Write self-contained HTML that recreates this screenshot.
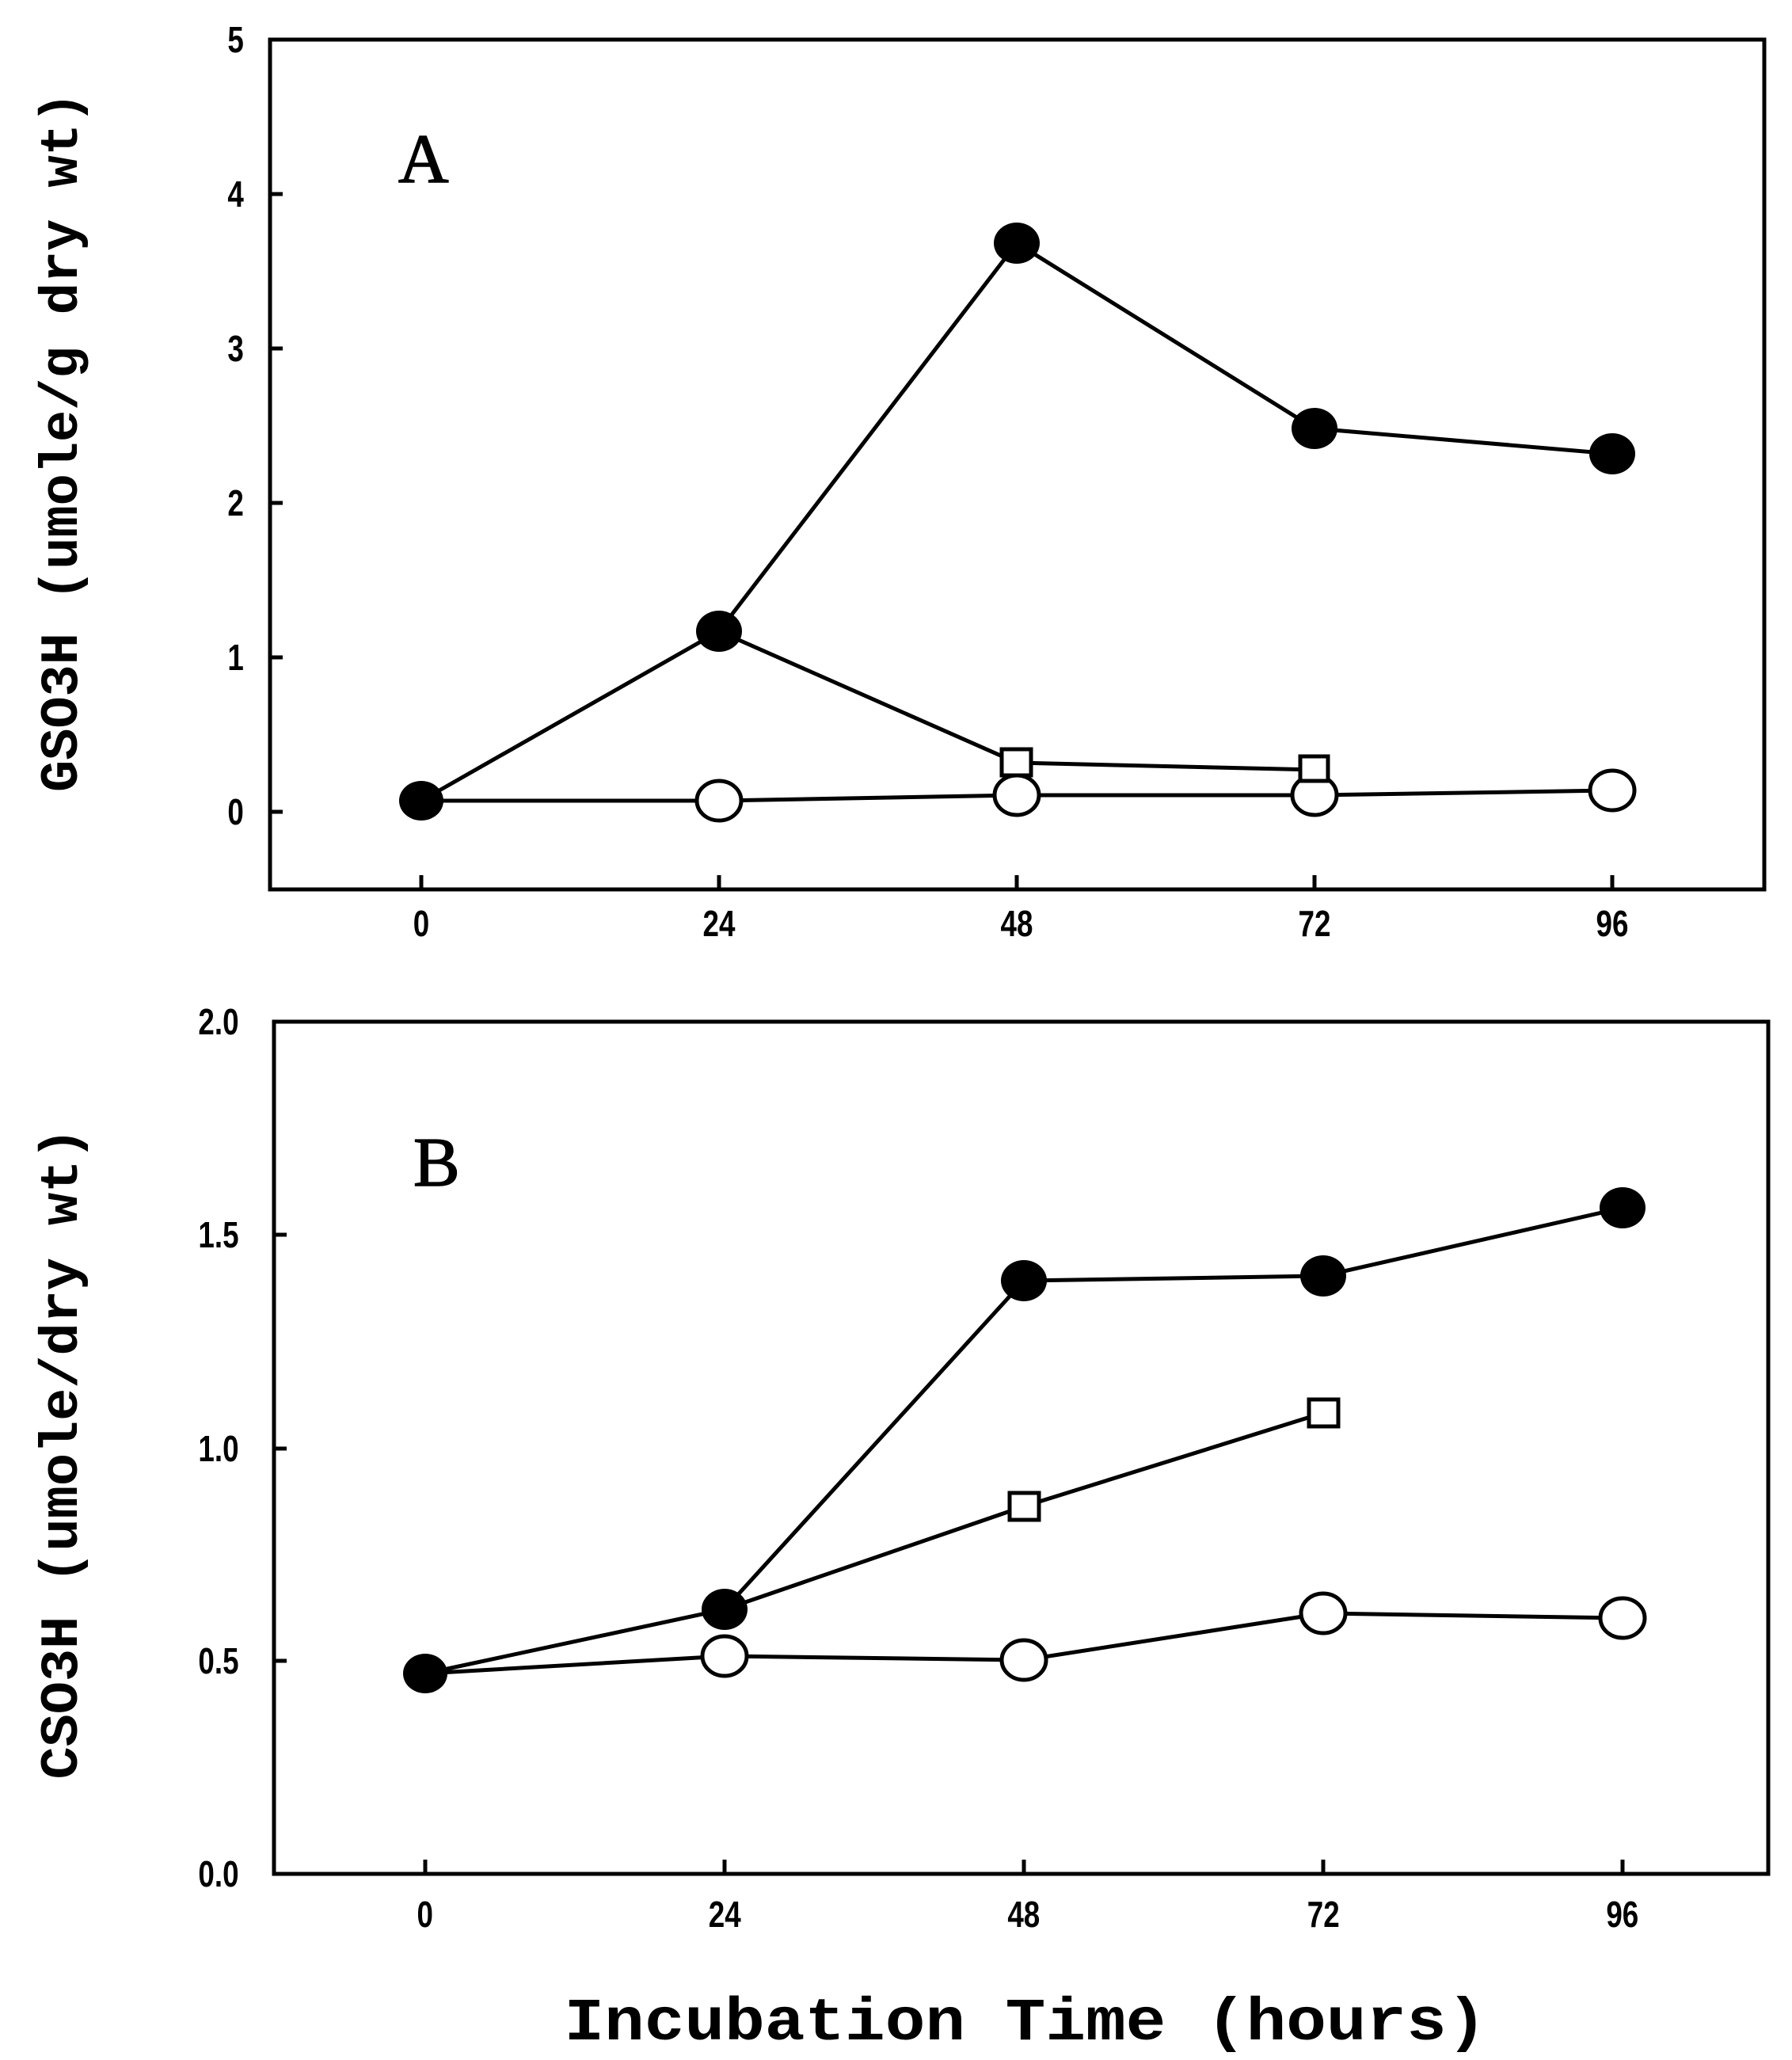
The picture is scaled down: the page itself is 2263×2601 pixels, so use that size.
<!DOCTYPE html>
<html><head><meta charset="utf-8"><style>html,body{margin:0;padding:0;background:#fff}svg{display:block}</style></head><body>
<svg width="2263" height="2601" viewBox="0 0 2263 2601" xmlns="http://www.w3.org/2000/svg">
<g fill="none" stroke="#000" stroke-width="5">
<rect x="341" y="50" width="1887" height="1073"/>
<rect x="346" y="1290" width="1887" height="1076"/>
<path d="M341 50h16M341 245h16M341 440h16M341 635h16M341 830h16M341 1025h16"/>
<path d="M532 1123v-18M908 1123v-18M1284 1123v-18M1660 1123v-18M2036 1123v-18"/>
<path d="M346 1290h16M346 1559h16M346 1829h16M346 2097h16M346 2366h16"/>
<path d="M537 2366v-18M915 2366v-18M1293 2366v-18M1671 2366v-18M2049 2366v-18"/>
<polyline points="532,1011 908,797 1284,307 1660,541 2036,573"/>
<polyline points="908,797 1284,963 1660,972"/>
<polyline points="532,1011 908,1011 1284,1004 1660,1004 2036,998"/>
<polyline points="537,2113 915,2032 1293,1617 1671,1611 2049,1525"/>
<polyline points="915,2032 1293,1902 1671,1784"/>
<polyline points="537,2113 915,2091 1293,2096 1671,2037 2049,2043"/>
</g>
<g fill="#fff" stroke="#000" stroke-width="5">
<ellipse cx="908" cy="1011" rx="28" ry="25"/><ellipse cx="1284" cy="1004" rx="28" ry="25"/><ellipse cx="1660" cy="1004" rx="28" ry="25"/><ellipse cx="2036" cy="998" rx="28" ry="25"/>
<rect x="1265" y="946" width="37" height="33"/><rect x="1642" y="955" width="35" height="31"/>
<ellipse cx="915" cy="2091" rx="28" ry="25"/><ellipse cx="1293" cy="2096" rx="28" ry="25"/><ellipse cx="1671" cy="2037" rx="28" ry="25"/><ellipse cx="2049" cy="2043" rx="28" ry="25"/>
<rect x="1275" y="1885" width="37" height="34"/><rect x="1653" y="1767" width="37" height="34"/>
</g>
<g fill="#000">
<ellipse cx="532" cy="1011" rx="28" ry="25"/><ellipse cx="908" cy="797" rx="29" ry="26"/><ellipse cx="1284" cy="307" rx="29" ry="26"/><ellipse cx="1660" cy="541" rx="29" ry="26"/><ellipse cx="2036" cy="573" rx="29" ry="26"/>
<ellipse cx="537" cy="2113" rx="28" ry="25"/><ellipse cx="915" cy="2032" rx="29" ry="26"/><ellipse cx="1293" cy="1617" rx="29" ry="26"/><ellipse cx="1671" cy="1611" rx="29" ry="26"/><ellipse cx="2049" cy="1525" rx="29" ry="26"/>
</g>
<g font-family="Liberation Sans, sans-serif" font-weight="bold" font-size="46" text-anchor="middle">
<g transform="scale(0.8,1)">
<text x="372" y="66">5</text><text x="372" y="261">4</text><text x="372" y="456">3</text><text x="372" y="651">2</text><text x="372" y="846">1</text><text x="372" y="1041">0</text>
<text x="665" y="1182">0</text><text x="1135" y="1182">24</text><text x="1605" y="1182">48</text><text x="2075" y="1182">72</text><text x="2545" y="1182">96</text>
<text x="345" y="1306">2.0</text><text x="345" y="1575">1.5</text><text x="345" y="1845">1.0</text><text x="345" y="2113">0.5</text><text x="345" y="2382">0.0</text>
<text x="671" y="2433">0</text><text x="1144" y="2433">24</text><text x="1616" y="2433">48</text><text x="2089" y="2433">72</text><text x="2561" y="2433">96</text>
</g>
</g>
<g font-family="Liberation Serif, serif" font-size="88" stroke="#000" stroke-width="1.5">
<text x="503" y="230">A</text><text x="522" y="1497">B</text>
</g>
<g font-family="Liberation Mono, monospace" font-weight="bold" font-size="68" text-anchor="middle">
<text transform="translate(97,558) rotate(-90)" textLength="884" lengthAdjust="spacingAndGlyphs">GSO3H (umole/g dry wt)</text>
<text transform="translate(97,1835) rotate(-90)" textLength="823" lengthAdjust="spacingAndGlyphs">CSO3H (umole/dry wt)</text>
<text x="1295" y="2575" font-size="76" textLength="1165" lengthAdjust="spacingAndGlyphs">Incubation Time (hours)</text>
</g>
</svg>
</body></html>
